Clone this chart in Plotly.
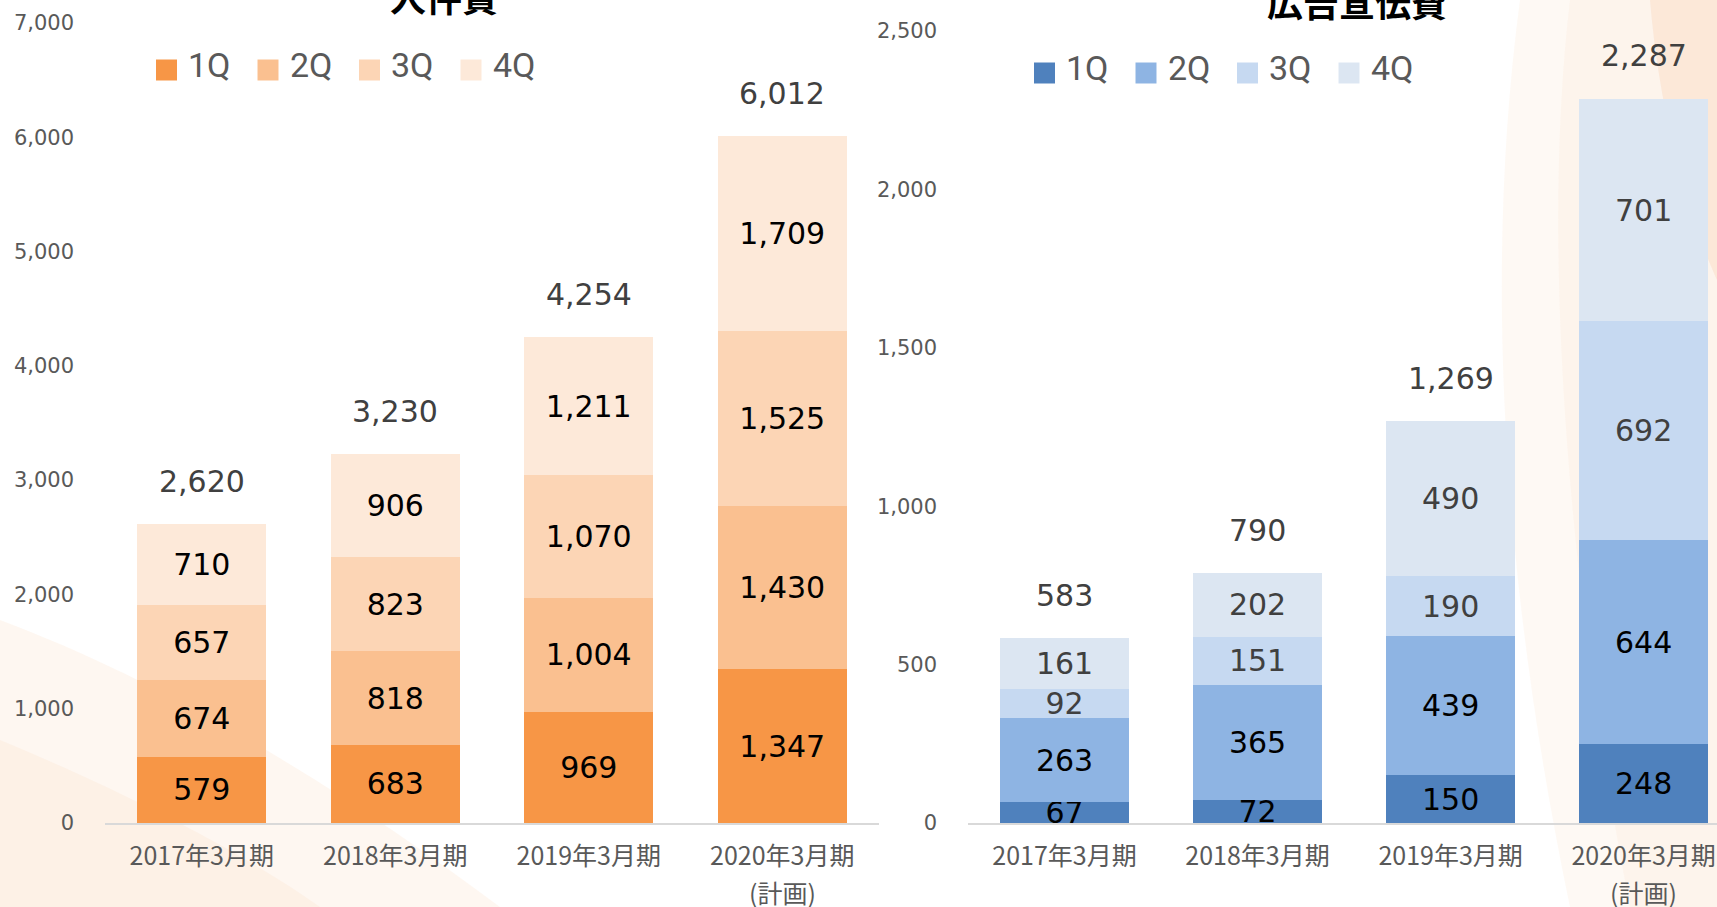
import plotly.graph_objects as go

W, H = 1717, 907


def px(x):
    return x / W


def py(y):
    return 1 - y / H


# ---------------- data ----------------
categories = ["2017年3月期", "2018年3月期", "2019年3月期", "2020年3月期"]
quarters = ["1Q", "2Q", "3Q", "4Q"]

labor_q1 = [579, 683, 969, 1347]
labor_q2 = [674, 818, 1004, 1430]
labor_q3 = [657, 823, 1070, 1525]
labor_q4 = [710, 906, 1211, 1709]
labor_total = [2620, 3230, 4254, 6012]

ad_q1 = [67, 72, 150, 248]
ad_q2 = [263, 365, 439, 644]
ad_q3 = [92, 151, 190, 692]
ad_q4 = [161, 202, 490, 701]
ad_total = [583, 790, 1269, 2287]

plan_note = "(計画)"
title_left = "人件費"
title_right = "広告宣伝費"

labor_colors = ["#F79646", "#FAC090", "#FCD5B5", "#FDE9D9"]
ad_colors = ["#4F81BD", "#8EB4E3", "#C6D9F1", "#DCE6F2"]
ad_label_colors = ["#000000", "#000000", "#404040", "#404040"]

LABEL_FONT = "DejaVu Sans"
CJK_FONT = "Noto Sans CJK JP"
GRAY = "#595959"

fig = go.Figure()


# ---------------- faint background decoration ----------------
def P(x, y):
    return f"{px(x)},{py(y)}"


bg_shapes = [
    # right soft band
    (f"M {P(1520,0)} C {P(1480,300)} {P(1510,620)} {P(1570,907)} L {P(1717,907)} L {P(1717,0)} Z",
     "rgba(252,232,216,0.28)"),
    (f"M {P(1570,0)} C {P(1540,250)} {P(1570,600)} {P(1630,907)} L {P(1717,907)} L {P(1717,0)} Z",
     "rgba(252,228,210,0.22)"),
    # top-right warmer corner
    (f"M {P(1650,0)} C {P(1660,120)} {P(1690,220)} {P(1717,280)} L {P(1717,0)} Z",
     "rgba(249,210,180,0.35)"),
    # bottom-left swirl
    (f"M {P(0,620)} C {P(160,680)} {P(330,780)} {P(500,907)} L {P(0,907)} Z",
     "rgba(252,232,216,0.35)"),
    (f"M {P(0,740)} C {P(120,790)} {P(240,850)} {P(320,907)} L {P(0,907)} Z",
     "rgba(251,222,198,0.25)"),
]
for path, col in bg_shapes:
    fig.add_shape(type="path", path=path, xref="paper", yref="paper",
                  fillcolor=col, line=dict(width=0), layer="below")

# ---------------- bars ----------------
labor_series = [labor_q1, labor_q2, labor_q3, labor_q4]
ad_series = [ad_q1, ad_q2, ad_q3, ad_q4]

for q, vals, col in zip(quarters, labor_series, labor_colors):
    fig.add_trace(go.Bar(
        x=categories, y=vals, name=q, xaxis="x", yaxis="y",
        marker=dict(color=col, line=dict(width=0)),
        text=[f"{v:,}" for v in vals], textposition="inside",
        insidetextanchor="middle", textangle=0, constraintext="none",
        textfont=dict(family=LABEL_FONT, size=30, color="#000000"),
        showlegend=False, hoverinfo="skip"))

for q, vals, col, tcol in zip(quarters, ad_series, ad_colors, ad_label_colors):
    fig.add_trace(go.Bar(
        x=categories, y=vals, name=q, xaxis="x2", yaxis="y2",
        marker=dict(color=col, line=dict(width=0)),
        text=[f"{v:,}" for v in vals], textposition="inside",
        insidetextanchor="middle", textangle=0, constraintext="none",
        textfont=dict(family=LABEL_FONT, size=30, color=tcol),
        showlegend=False, hoverinfo="skip"))

annotations = []
# totals above stacks
for cat, tot in zip(categories, labor_total):
    annotations.append(dict(x=cat, y=tot, xref="x", yref="y", text=f"{tot:,}",
                            showarrow=False, yanchor="bottom", yshift=23,
                            font=dict(family=LABEL_FONT, size=30, color="#404040")))
for cat, tot in zip(categories, ad_total):
    annotations.append(dict(x=cat, y=tot, xref="x2", yref="y2", text=f"{tot:,}",
                            showarrow=False, yanchor="bottom", yshift=23,
                            font=dict(family=LABEL_FONT, size=30, color="#404040")))

# plan note under last category
for xr in ["x", "x2"]:
    annotations.append(dict(x=categories[3], y=py(892), xref=xr, yref="paper",
                            text=plan_note, showarrow=False, yanchor="middle",
                            font=dict(family=CJK_FONT, size=25, color=GRAY)))

# titles (partly cut off at the top, as in the source)
annotations.append(dict(x=px(444), y=py(24), xref="paper", yref="paper",
                        text=f"<b>{title_left}</b>", showarrow=False,
                        xanchor="center", yanchor="bottom",
                        font=dict(family=CJK_FONT, size=36, color="#000000")))
annotations.append(dict(x=px(1357), y=py(29), xref="paper", yref="paper",
                        text=f"<b>{title_right}</b>", showarrow=False,
                        xanchor="center", yanchor="bottom",
                        font=dict(family=CJK_FONT, size=36, color="#000000")))


# custom legends
def add_legend(x0, yc, colors):
    for i, (q, col) in enumerate(zip(quarters, colors)):
        sx = x0 + i * 101.5
        fig.add_shape(type="rect", xref="paper", yref="paper",
                      x0=px(sx), x1=px(sx + 21), y0=py(yc + 10.5), y1=py(yc - 10.5),
                      fillcolor=col, line=dict(width=0))
        annotations.append(dict(x=px(sx + 30), y=py(yc - 5), xref="paper", yref="paper",
                                text=q, showarrow=False, xanchor="left", yanchor="middle",
                                font=dict(family="Roboto", size=34, color=GRAY)))


add_legend(156, 70, labor_colors)
add_legend(1034, 73, ad_colors)

axis_common_x = dict(type="category", showline=True, linecolor="#D9D9D9", linewidth=2,
                     ticks="", showgrid=False, zeroline=False, fixedrange=True,
                     automargin=False,
                     tickfont=dict(family=CJK_FONT, size=25, color=GRAY),
                     ticklabelstandoff=10)
axis_common_y = dict(showline=False, ticks="", showgrid=False, zeroline=False,
                     tickformat=",", tick0=0, fixedrange=True, automargin=False,
                     tickfont=dict(family=LABEL_FONT, size=21, color=GRAY),
                     ticklabelstandoff=30)

fig.update_layout(
    width=W, height=H,
    margin=dict(l=0, r=0, t=0, b=0, pad=0, autoexpand=False),
    paper_bgcolor="#FFFFFF", plot_bgcolor="rgba(0,0,0,0)",
    barmode="stack", bargap=0.333,
    showlegend=False,
    xaxis=dict(domain=[px(105), px(879)], range=[-0.5, 3.5], anchor="y", **axis_common_x),
    yaxis=dict(domain=[py(823), py(23)], range=[0, 7000], dtick=1000, anchor="x", **axis_common_y),
    xaxis2=dict(domain=[px(968), 1.0], range=[-0.5, 3.38], anchor="y2", **axis_common_x),
    yaxis2=dict(domain=[py(823), py(31)], range=[0, 2500], dtick=500, anchor="x2", **axis_common_y),
    annotations=annotations,
)

fig.write_html(
    "out.html",
    config={"displayModeBar": False},
    post_script="document.body.style.margin='0';document.body.style.padding='0';"
                "document.body.style.overflow='hidden';",
)
